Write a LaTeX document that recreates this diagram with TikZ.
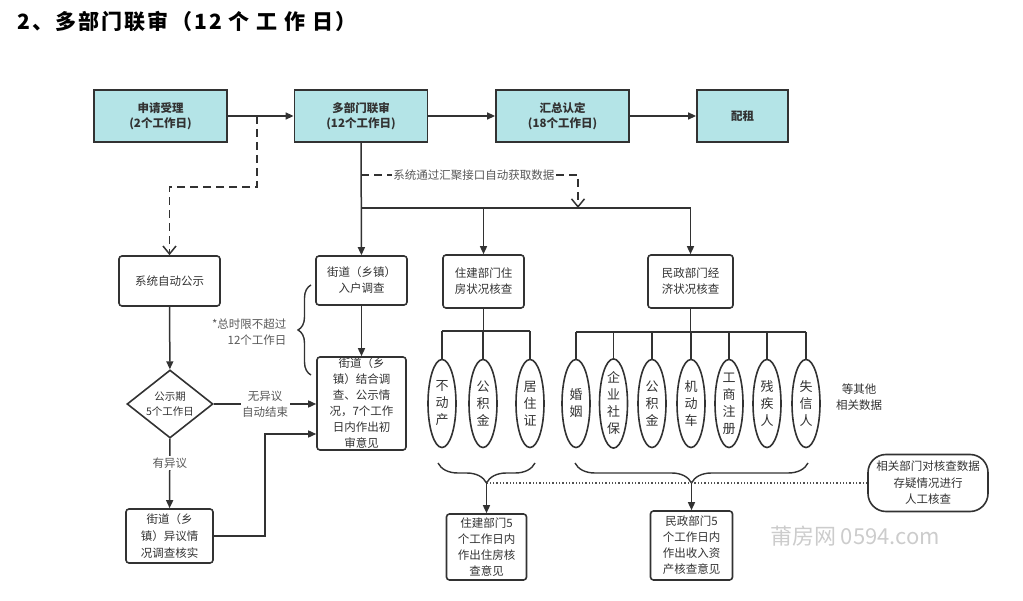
\documentclass[tikz,border=0pt]{standalone}
\usepackage{fontspec}
\setmainfont{Noto Sans CJK SC}
\newfontfamily\headfont{Noto Sans CJK SC}[LetterSpace=10]
\usepackage{tikz}
\usetikzlibrary{arrows.meta,shapes.geometric,decorations.pathreplacing}
\definecolor{cellfill}{RGB}{180,228,231}
\definecolor{ink}{RGB}{50,50,50}
\definecolor{note}{RGB}{88,88,88}

\begin{document}
\begin{tikzpicture}[x=1pt, y=-1pt, >={Triangle[length=8pt,width=7pt]},
    phase/.style={draw=ink, line width=1.8pt, fill=cellfill, minimum width=133pt, minimum height=52pt, align=center, text=ink, font=\bfseries\fontsize{11.5}{15}\selectfont},
    stepbox/.style={draw=ink, line width=1.6pt, rounded corners=3pt, align=center, inner sep=0pt, text=ink, font=\fontsize{11.5}{16}\selectfont},
    pill/.style={draw=ink, line width=1.6pt, ellipse, minimum width=28pt, minimum height=88pt, inner sep=0pt, align=center, text=ink, font=\fontsize{13}{17}\selectfont},
    decide/.style={draw=ink, line width=1.6pt, diamond, aspect=1.2, minimum width=86pt, inner sep=1pt, align=center, text=ink, font=\fontsize{10.5}{15}\selectfont},
    link/.style={draw=ink, line width=1.5pt},
    feed/.style={link, dash pattern=on 8pt off 5pt, -{Straight Barb[length=8pt,width=13pt]}},
    curly/.style={link, line width=1.4pt, decorate},
    tag/.style={fill=white, inner sep=1.5pt, align=center, text=note, font=\fontsize{11.5}{16}\selectfont}]
    \useasboundingbox (0,0) rectangle (1023,601);

    \node[anchor=west, text=black, font=\headfont\bfseries\fontsize{21}{21}\selectfont] (title) at (14,22) {2、多部门联审（12 个 工 作 日）};

    % main stages
    \node[phase] (apply) at (160.5,116) {申请受理\\(2个工作日)};
    \node[phase] (joint) at (361,116) {多部门联审\\(12个工作日)};
    \node[phase] (sum) at (562.5,116) {汇总认定\\(18个工作日)};
    \node[phase, minimum width=91pt] (rent) at (742.5,116) {配租};
    \draw[link,->] (apply) -- (joint);
    \draw[link,->] (joint) -- (sum);
    \draw[link,->] (sum) -- (rent);

    % publicity branch
    \node[stepbox, minimum width=101pt, minimum height=50pt] (notice) at (169.5,281) {系统自动公示};
    \node[decide] (gsq) at (170,404) {公示期\\5个工作日};
    \node[stepbox, minimum width=87pt, minimum height=54pt, font=\fontsize{11.5}{17}\selectfont] (objbox) at (169.5,536) {街道（乡\\镇）异议情\\况调查核实};
    \coordinate (tap) at (257,116);
    \draw[feed] (tap) -- ++(0,71) -| (notice.north);
    \draw[link,->] (notice) -- (gsq);
    \draw[link,->] (gsq) -- node[tag, pos=0.35] {有异议} (objbox);

    % street survey
    \node[stepbox, minimum width=91pt, minimum height=49pt] (visit) at (361.5,280.5) {街道（乡镇）\\入户调查};
    \node[stepbox, minimum width=89pt, minimum height=93pt] (combine) at (361.5,403.5) {街道（乡\\镇）结合调\\查、公示情\\况，7个工作\\日内作出初\\审意见};
    \draw[link,->] (joint) -- (visit);
    \draw[link,->] (visit) -- (combine);
    \draw[link,->] (gsq.east) -- node[tag] {无异议\\自动结束} (gsq.east -| combine.west);
    \coordinate (back) at (265,434);
    \draw[link,->] (objbox.east) -| (back) -- (back -| combine.west);
    \coordinate (limtop) at (311,285);
    \coordinate (limbot) at (311,375);
    \draw[curly, decoration={brace, amplitude=13pt}] (limbot) -- (limtop);
    \node[anchor=east, align=right, text=note, font=\fontsize{11.5}{16}\selectfont] (limit) at (290,332) {*总时限不超过\\12个工作日};

    % department checks
    \node[stepbox, minimum width=81pt, minimum height=53pt] (house) at (483.5,281.5) {住建部门住\\房状况核查};
    \node[stepbox, minimum width=85pt, minimum height=53pt] (civil) at (690.5,281.5) {民政部门经\\济状况核查};
    \coordinate (fork) at (361,208);
    \draw[link,->] (fork) -| (civil);
    \draw[link,->] (fork -| house) -- (house);
    \coordinate (dsrc) at (361,175);
    \coordinate (dhit) at (578,208);
    \draw[feed] (dsrc) -| node[tag, pos=0.26, inner sep=1pt] {系统通过汇聚接口自动获取数据} (dhit);

    \foreach \i/\x/\t in {1/442/{不\\动\\产}, 2/483/{公\\积\\金}, 3/530/{居\\住\\证}}
        \node[pill] (h\i) at (\x,403.5) {\t};
    \foreach \i/\x/\t in {1/576/{婚\\姻}, 2/613.5/{企\\业\\社\\保}, 3/652/{公\\积\\金}, 4/691/{机\\动\\车}, 5/729/{工\\商\\注\\册}, 6/767/{残\\疾\\人}, 7/806/{失\\信\\人}}
        \node[pill] (c\i) at (\x,403.5) {\t};
    \coordinate (hjoin) at (483.5,331);
    \coordinate (cjoin) at (690.5,332);
    \draw[link] (house) -- (hjoin);
    \draw[link] (h1.north |- hjoin) -- (h3.north |- hjoin);
    \foreach \i in {1,2,3}
        \draw[link] (h\i.north |- hjoin) -- (h\i);
    \draw[link] (civil) -- (cjoin);
    \draw[link] (c1.north |- cjoin) -- (c7.north |- cjoin);
    \foreach \i in {1,...,7}
        \draw[link] (c\i.north |- cjoin) -- (c\i);
    \node[text=ink, align=center, font=\fontsize{11.5}{16}\selectfont] (others) at (859,397) {等其他\\相关数据};

    % opinions
    \coordinate (hl) at (438,463);
    \coordinate (hr) at (535,463);
    \coordinate (cl) at (575,463);
    \coordinate (cr) at (808,463);
    \coordinate (htip) at (486.5,483);
    \coordinate (ctip) at (691.5,483);
    \draw[curly, decoration={brace, mirror, amplitude=20pt}] (hl) -- (hr);
    \draw[curly, decoration={brace, mirror, amplitude=20pt}] (cl) -- (cr);
    \node[stepbox, minimum width=80pt, minimum height=66pt] (hrep) at (486.5,547) {住建部门5\\个工作日内\\作出住房核\\查意见};
    \node[stepbox, minimum width=82pt, minimum height=69pt] (crep) at (691.5,545.5) {民政部门5\\个工作日内\\作出收入资\\产核查意见};
    \node[draw=ink, line width=1.6pt, rounded corners=18pt, minimum width=120pt, minimum height=57pt, align=center, text=ink, font=\fontsize{11.5}{16.5}\selectfont] (manual) at (928,483) {相关部门对核查数据\\存疑情况进行\\人工核查};
    \draw[link, ink!85, line width=1.3pt, dotted] (manual.west) -- (htip);
    \draw[link,->] (htip) -- (htip |- hrep.north);
    \draw[link,->] (ctip) -- (ctip |- crep.north);

    \node[text=gray!40, font=\fontsize{22}{22}\selectfont] (mark) at (855,536) {莆房网\ 0594.com};
\end{tikzpicture}
\end{document}
